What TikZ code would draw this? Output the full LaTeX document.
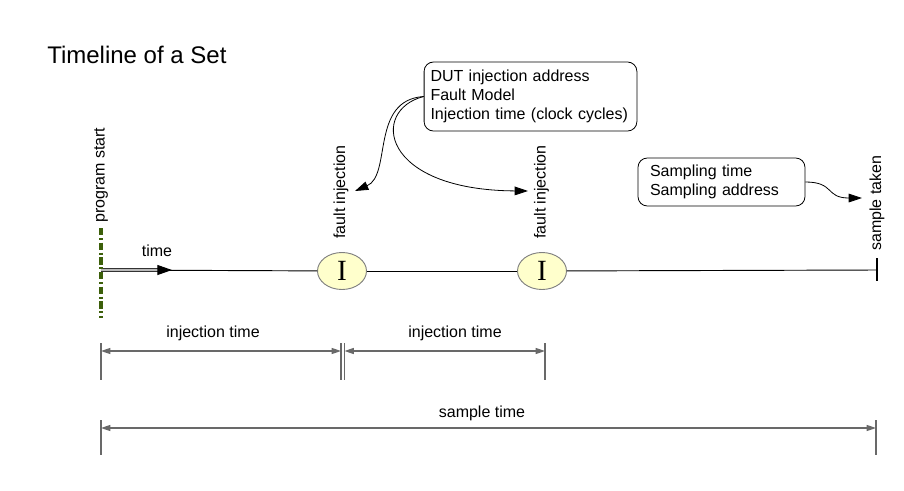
\documentclass[tikz,border=0pt]{standalone}
\usepackage{fontspec}
\setmainfont{Liberation Sans}
\newfontfamily\serifI{Liberation Serif}
\usetikzlibrary{arrows.meta,shapes.geometric}
\definecolor{dimgray}{RGB}{105,105,105}
\definecolor{progreen}{RGB}{60,95,10}
\definecolor{bubfill}{RGB}{255,255,204}
\begin{document}
\begin{tikzpicture}[x=0.75pt,y=-0.75pt,
  lbl/.style={font=\fontsize{12}{14}\selectfont, inner sep=0pt},
  vlbl/.style={lbl, rotate=90, anchor=west},
  infobox/.style={draw=black, rounded corners=7pt, line width=0.6pt, align=left,
    font=\fontsize{12}{14}\selectfont, inner ysep=0pt},
  ibub/.style={ellipse, draw=gray, line width=0.7pt, fill=bubfill, inner sep=0pt,
    minimum width=36.75pt, minimum height=27.75pt, font=\serifI\fontsize{22}{22}\selectfont},
  dimline/.style={draw=dimgray, line width=0.9pt,
    {Triangle[length=7pt,width=4.5pt]}-{Triangle[length=7pt,width=4.5pt]}},
  extline/.style={draw=dimgray, line width=0.9pt},
  callout/.style={-{Triangle[length=10pt,width=6.5pt]}, line width=0.6pt},
  axisline/.style={draw=black, line width=0.7pt},
  timearrow/.style={draw=gray!40!black, double=gray!55, double distance=1pt, line width=0.8pt,
    -{Triangle[length=11pt,width=7.5pt,color=black,fill=black]}},
  progline/.style={draw=progreen, line width=3.4pt, dash pattern=on 5.5pt off 2pt on 1.5pt off 2pt},
]
\useasboundingbox (0,0) rectangle (904,490);

% title
\node[anchor=west, inner sep=0pt, font=\fontsize{18}{20}\selectfont] (title) at (47,55) {Timeline of a Set};

% timeline
\coordinate (t0) at (101,270);
\coordinate (tarr) at (172,270);
\coordinate (tend) at (877,270);
\node[ibub] (e1) at (342,271) {I};
\node[ibub] (e2) at (542,271) {I};
\draw[axisline] (t0) -- (e1);
\draw[axisline] (e1) -- (e2);
\draw[axisline] (e2) -- (tend);
\draw[timearrow] (t0) -- (tarr);
\node[lbl] (timelbl) at (157,251) {time};

% program start
\coordinate (ps1) at (101,228);
\coordinate (ps2) at (101,318);
\draw[progline] (ps1) -- (ps2);
\node[vlbl] (pslbl) at (101,223) {program start};

% end tick
\coordinate (et1) at (877,258);
\coordinate (et2) at (877,281);
\draw[line width=2.2pt] (et1) -- (et2);

% vertical labels
\node[vlbl] (fi1lbl) at (341,239) {fault injection};
\node[vlbl] (fi2lbl) at (541.5,239) {fault injection};
\node[vlbl] (stlbl) at (877,251) {sample taken};

% info boxes
\node[infobox, inner xsep=4.8pt, text width=150pt, minimum height=51.75pt] (b1) at (530.5,96.5)
  {DUT injection address\\Fault Model\\Injection time (clock cycles)};
\node[infobox, inner xsep=9pt, text width=107.25pt, minimum height=36pt] (b2) at (721.5,182)
  {Sampling time\\Sampling address};

% callout arrows
\coordinate (fi1) at (355,191);
\coordinate (fi2) at (528,191);
\coordinate (st) at (862,198);
\draw[callout] (b1.west) .. controls (370,100) and (392,175) .. (fi1);
\draw[callout] (b1.west) .. controls (370,110) and (380,190) .. (fi2);
\draw[callout] (b2.east) .. controls (835,182) and (825,198) .. (st);

% dimension: injection time
\coordinate (d1a) at (101,351);
\coordinate (d1b) at (341,351);
\coordinate (d2a) at (344.5,351);
\coordinate (d2b) at (545,351);
\coordinate (x1t) at (101,343);  \coordinate (x1b) at (101,380);
\coordinate (x2t) at (341,343);  \coordinate (x2b) at (341,380);
\coordinate (x3t) at (344.5,343);  \coordinate (x3b) at (344.5,380);
\coordinate (x4t) at (545,343);  \coordinate (x4b) at (545,380);
\draw[extline] (x1t) -- (x1b);
\draw[extline] (x2t) -- (x2b);
\draw[extline] (x3t) -- (x3b);
\draw[extline] (x4t) -- (x4b);
\draw[dimline] (d1a) -- (d1b);
\draw[dimline] (d2a) -- (d2b);
\node[lbl] (it1) at (213,333) {injection time};
\node[lbl] (it2) at (455,333) {injection time};

% dimension: sample time
\coordinate (s1) at (101,428);
\coordinate (s2) at (876,428);
\coordinate (y1t) at (101,420);  \coordinate (y1b) at (101,455);
\coordinate (y2t) at (876,420);  \coordinate (y2b) at (876,455);
\draw[extline] (y1t) -- (y1b);
\draw[extline] (y2t) -- (y2b);
\draw[dimline] (s1) -- (s2);
\node[lbl] (stime) at (482,413) {sample time};
\end{tikzpicture}
\end{document}
